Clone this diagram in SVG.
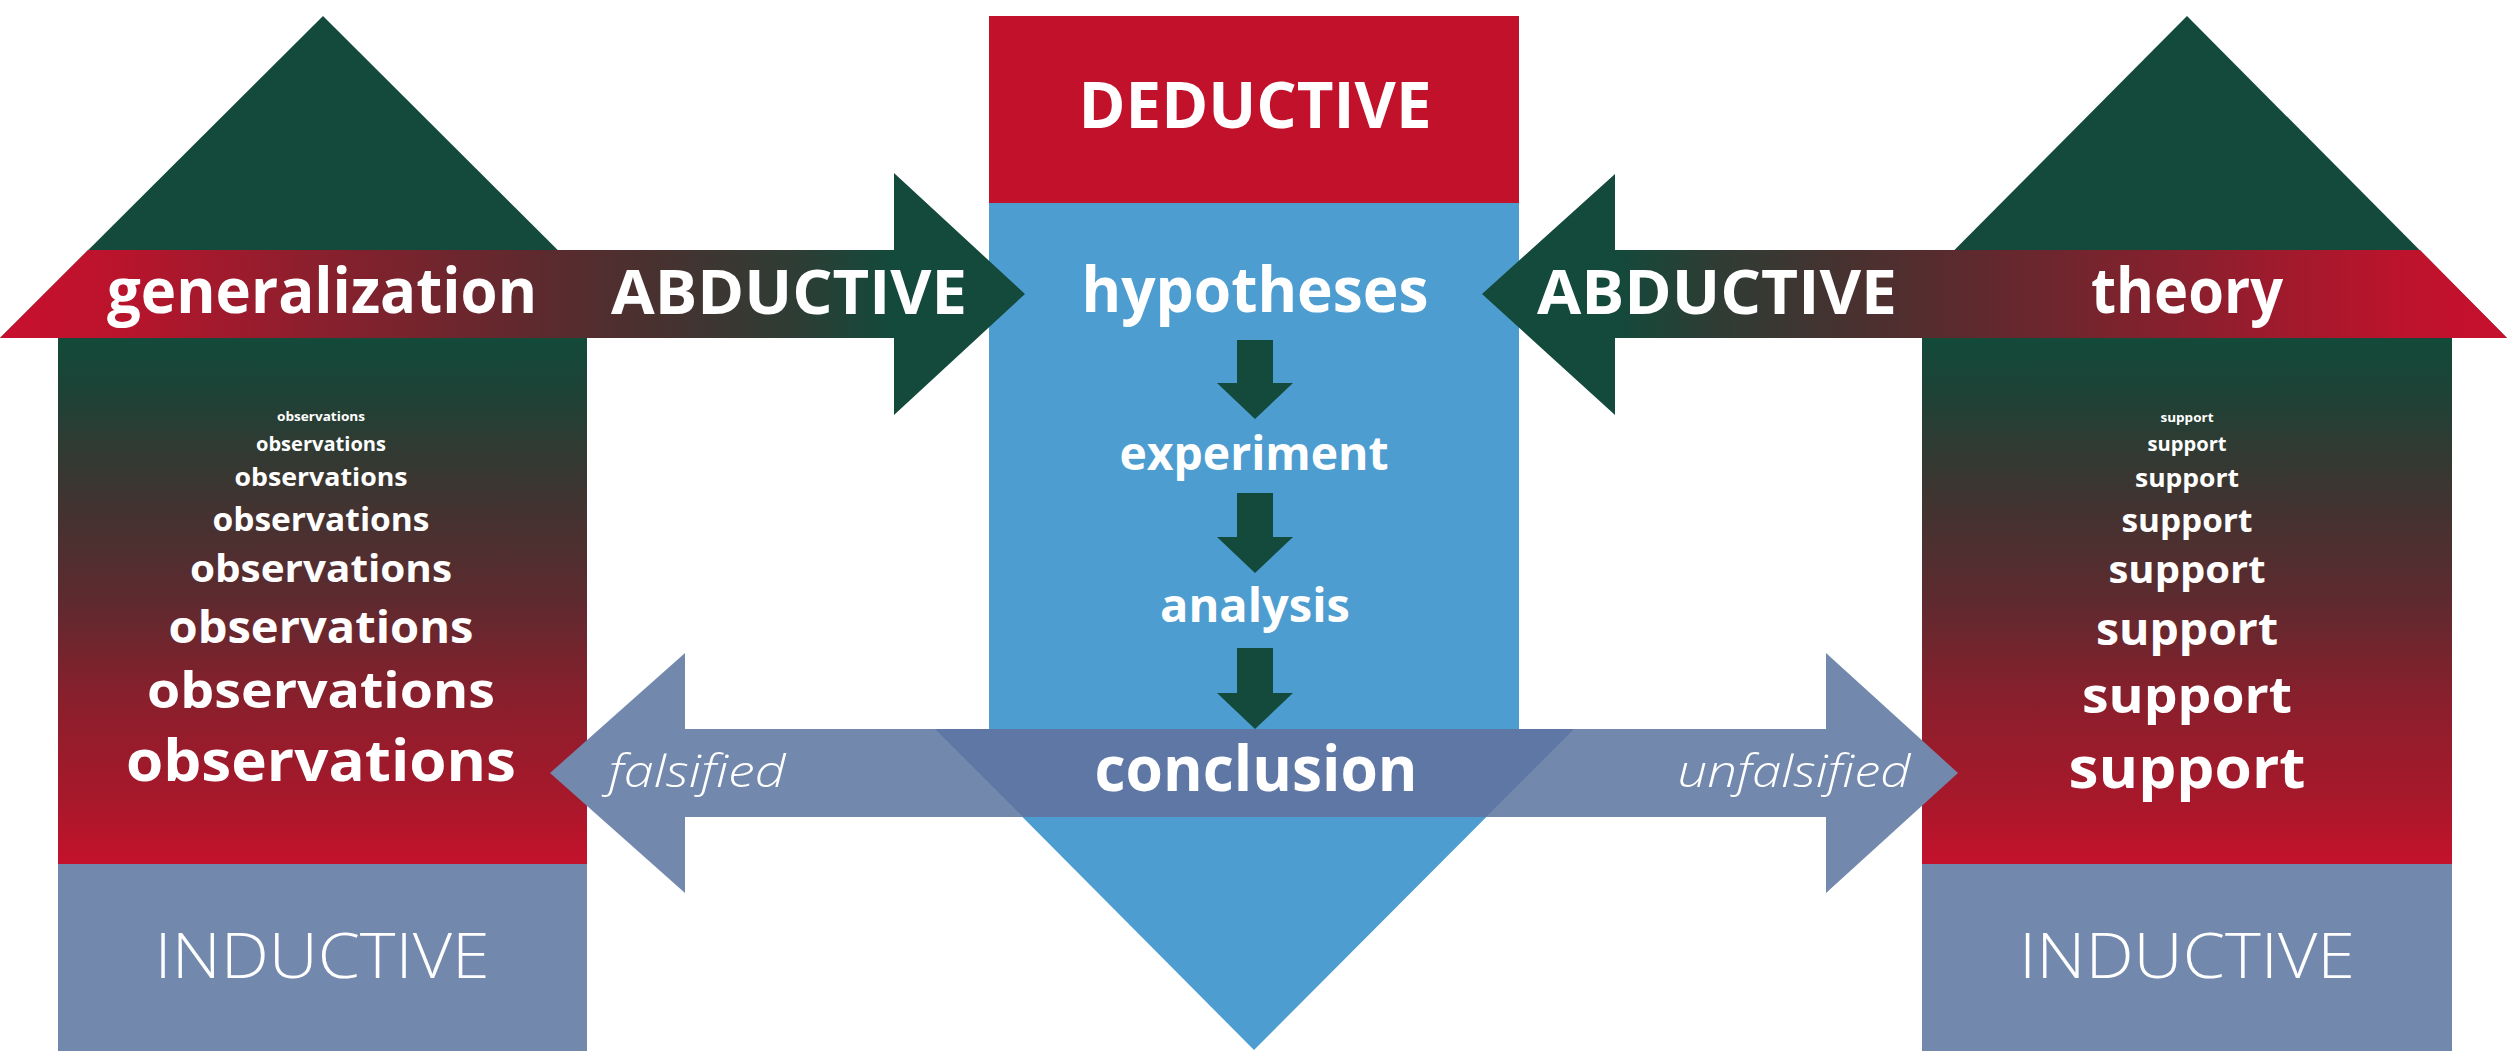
<svg xmlns="http://www.w3.org/2000/svg" width="2509" height="1053" viewBox="0 0 2509 1053">
<style>
.t{fill:#fff;font-family:"Open Sans","Noto Sans","Liberation Sans",sans-serif;text-anchor:middle}
.b{font-weight:700}
.l{font-weight:300}
.i{font-style:italic;font-weight:300}
.green{fill:#134a3b}
.slate{fill:#7388ad}
.blue{fill:#4d9dd1}
.red{fill:#c1112b}
</style>
<defs>
<linearGradient id="gBody" x1="0" y1="338" x2="0" y2="864" gradientUnits="userSpaceOnUse">
<stop offset="0" stop-color="#134a3a"/>
<stop offset="0.08" stop-color="#1a4437"/>
<stop offset="0.27" stop-color="#3a3631"/>
<stop offset="0.5" stop-color="#5e2a2f"/>
<stop offset="0.69" stop-color="#8a1f2c"/>
<stop offset="0.88" stop-color="#a8182b"/>
<stop offset="1" stop-color="#c4122b"/>
</linearGradient>
<linearGradient id="gBandL" x1="0" y1="0" x2="1025" y2="0" gradientUnits="userSpaceOnUse">
<stop offset="0" stop-color="#c8102e"/>
<stop offset="0.1" stop-color="#bd132c"/>
<stop offset="0.3" stop-color="#8c1f2d"/>
<stop offset="0.53" stop-color="#5c2a2e"/>
<stop offset="0.65" stop-color="#463230"/>
<stop offset="0.78" stop-color="#2d3d35"/>
<stop offset="0.87" stop-color="#134a3b"/>
<stop offset="1" stop-color="#134a3b"/>
</linearGradient>
<linearGradient id="gBandR" href="#gBandL" x1="2507" y1="0" x2="1482" y2="0" gradientUnits="userSpaceOnUse"/>
</defs>

<g id="nodes">
<g id="left-house">
<polygon class="green" points="0,338 323,16 646,338"/>
<rect x="58" y="338" width="529" height="526" fill="url(#gBody)"/>
<rect class="slate" x="58" y="864" width="529" height="187"/>
<text class="t l" x="322" y="978" font-size="63" textLength="335" lengthAdjust="spacingAndGlyphs">INDUCTIVE</text>
<text class="t b" x="321" y="421" font-size="13" textLength="88" lengthAdjust="spacingAndGlyphs">observations</text>
<text class="t b" x="321" y="451" font-size="19" textLength="130" lengthAdjust="spacingAndGlyphs">observations</text>
<text class="t b" x="321" y="486" font-size="25" textLength="173" lengthAdjust="spacingAndGlyphs">observations</text>
<text class="t b" x="321" y="531" font-size="32" textLength="217" lengthAdjust="spacingAndGlyphs">observations</text>
<text class="t b" x="321" y="582" font-size="38" textLength="262" lengthAdjust="spacingAndGlyphs">observations</text>
<text class="t b" x="321" y="643" font-size="45" textLength="305" lengthAdjust="spacingAndGlyphs">observations</text>
<text class="t b" x="321" y="708" font-size="51" textLength="348" lengthAdjust="spacingAndGlyphs">observations</text>
<text class="t b" x="321" y="781" font-size="57" textLength="390" lengthAdjust="spacingAndGlyphs">observations</text>
</g>
<g id="right-house">
<polygon class="green" points="1867,338 2187,16 2507,338"/>
<rect x="1922" y="338" width="530" height="526" fill="url(#gBody)"/>
<rect class="slate" x="1922" y="864" width="530" height="187"/>
<text class="t l" x="2187" y="978" font-size="63" textLength="336" lengthAdjust="spacingAndGlyphs">INDUCTIVE</text>
<text class="t b" x="2187" y="422" font-size="13" textLength="53" lengthAdjust="spacingAndGlyphs">support</text>
<text class="t b" x="2187" y="451" font-size="19" textLength="79" lengthAdjust="spacingAndGlyphs">support</text>
<text class="t b" x="2187" y="487" font-size="25" textLength="104" lengthAdjust="spacingAndGlyphs">support</text>
<text class="t b" x="2187" y="532" font-size="32" textLength="131" lengthAdjust="spacingAndGlyphs">support</text>
<text class="t b" x="2187" y="583" font-size="38" textLength="157" lengthAdjust="spacingAndGlyphs">support</text>
<text class="t b" x="2187" y="645" font-size="45" textLength="182" lengthAdjust="spacingAndGlyphs">support</text>
<text class="t b" x="2187" y="713" font-size="51" textLength="210" lengthAdjust="spacingAndGlyphs">support</text>
<text class="t b" x="2187" y="788" font-size="57" textLength="237" lengthAdjust="spacingAndGlyphs">support</text>
</g>
<g id="deductive-column">
<rect class="red" x="989" y="16" width="530" height="188"/>
<rect class="blue" x="989" y="203" width="530" height="527"/>
<polygon class="blue" points="935,729 1574,729 1254,1050"/>
<text class="t b" x="1255" y="128" font-size="64" textLength="353" lengthAdjust="spacingAndGlyphs">DEDUCTIVE</text>
<text class="t b" x="1255" y="312" font-size="62" textLength="347" lengthAdjust="spacingAndGlyphs">hypotheses</text>
<text class="t b" x="1254" y="470" font-size="46" textLength="269" lengthAdjust="spacingAndGlyphs">experiment</text>
<text class="t b" x="1255" y="622" font-size="46" textLength="190" lengthAdjust="spacingAndGlyphs">analysis</text>
</g>
</g>

<g id="connectors">
<g id="abductive-left">
<polygon fill="url(#gBandL)" points="88,250 894,250 894,173 1025,294 894,415 894,338 0,338"/>
<text class="t b" x="789" y="314" font-size="61" textLength="356" lengthAdjust="spacingAndGlyphs">ABDUCTIVE</text>
</g>
<g id="abductive-right">
<polygon fill="url(#gBandR)" points="2420,250 1615,250 1615,174 1482,294 1615,415 1615,338 2507,338"/>
<text class="t b" x="1717" y="314" font-size="61" textLength="360" lengthAdjust="spacingAndGlyphs">ABDUCTIVE</text>
</g>
<g id="falsification">
<polygon class="slate" points="550,773 685,653 685,729 1826,729 1826,653 1958,773 1826,893 1826,817 685,817 685,893"/>
<polygon fill="#5f77a5" points="935,729 1574,729 1486,817 1023,817"/>
<text class="t i" x="697" y="787" font-size="44" textLength="177" lengthAdjust="spacingAndGlyphs">falsified</text>
<text class="t i" x="1794" y="787" font-size="44" textLength="233" lengthAdjust="spacingAndGlyphs">unfalsified</text>
</g>
<g id="steps">
<polygon class="green" points="1237,340 1273,340 1273,383 1293,383 1255,419 1217,383 1237,383"/>
<polygon class="green" points="1237,493 1273,493 1273,537 1293,537 1255,573 1217,537 1237,537"/>
<polygon class="green" points="1237,648 1273,648 1273,693 1293,693 1255,729 1217,693 1237,693"/>
</g>
</g>

<g id="labels">
<text class="t b" x="322" y="313" font-size="62" textLength="430" lengthAdjust="spacingAndGlyphs">generalization</text>
<text class="t b" x="2187" y="313" font-size="62" textLength="192" lengthAdjust="spacingAndGlyphs">theory</text>
<text class="t b" x="1256" y="791" font-size="62" textLength="323" lengthAdjust="spacingAndGlyphs">conclusion</text>
</g>
</svg>
